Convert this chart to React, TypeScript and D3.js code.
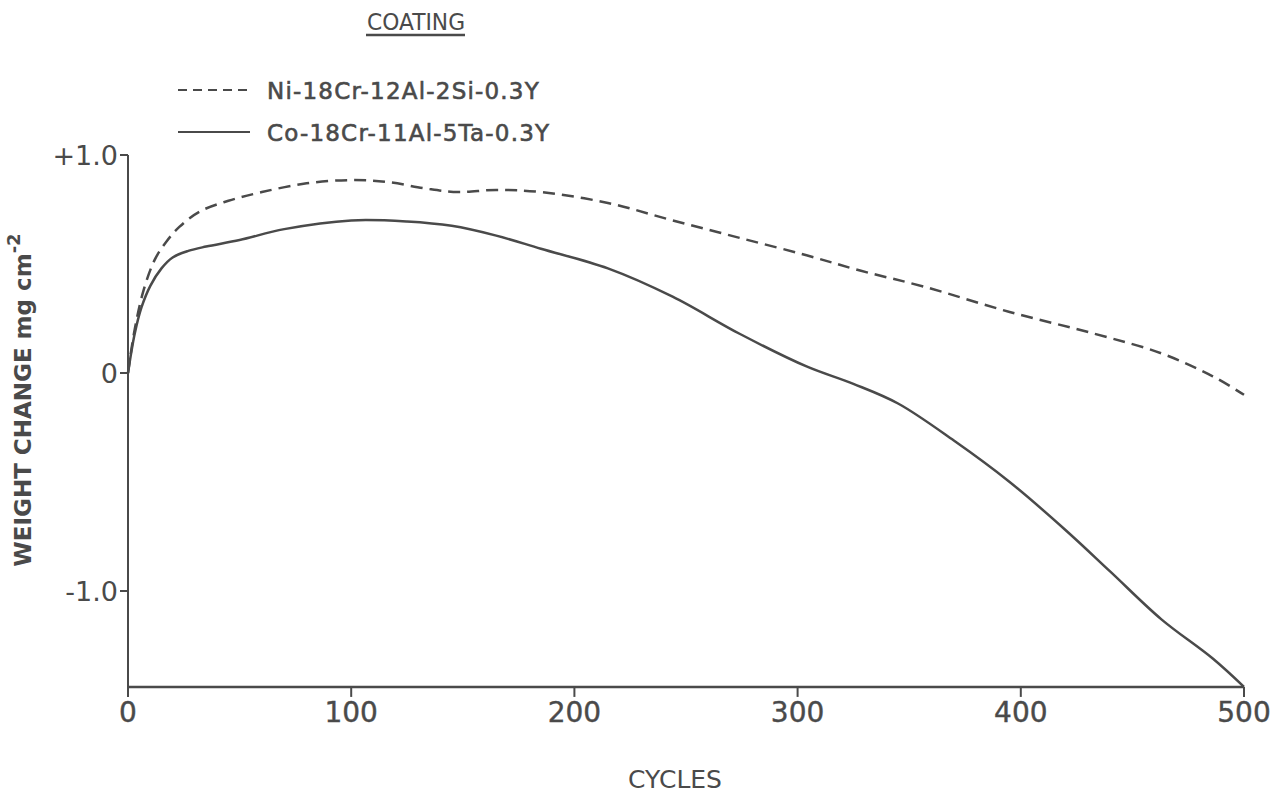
import React from "react";
import * as d3 from "d3";

// cycles / weight change (mg cm^-2)
const niCycles = [0, 3, 7, 12, 17, 23, 32, 45, 60, 80, 100, 117, 134, 148, 165, 185, 215, 244, 274, 304, 328, 357, 395, 433, 463, 486, 500];
const niValues = [0, 0.2, 0.38, 0.52, 0.6, 0.67, 0.74, 0.79, 0.83, 0.87, 0.885, 0.875, 0.845, 0.83, 0.84, 0.83, 0.78, 0.7, 0.62, 0.54, 0.47, 0.395, 0.28, 0.18, 0.09, -0.015, -0.1];

const coCycles = [0, 3, 6, 10, 15, 20, 27, 35, 50, 70, 100, 125, 145, 165, 185, 215, 244, 274, 304, 325, 345, 370, 395, 420, 440, 463, 486, 500];
const coValues = [0, 0.18, 0.3, 0.4, 0.48, 0.53, 0.56, 0.58, 0.61, 0.66, 0.7, 0.695, 0.675, 0.63, 0.57, 0.48, 0.35, 0.18, 0.03, -0.05, -0.14, -0.31, -0.5, -0.72, -0.91, -1.13, -1.31, -1.44];

const xTicks = [0, 100, 200, 300, 400, 500];
const yTicks = [1, 0, -1];
const yTickLabels = ["+1.0", "0", "-1.0"];

const legendLabels = ["Ni-18Cr-12Al-2Si-0.3Y", "Co-18Cr-11Al-5Ta-0.3Y"];

const ink = "#4a4a4a";
const font = "'DejaVu Sans', sans-serif";

const App = () => {
  const x = d3.scaleLinear().domain([0, 500]).range([128, 1244]);
  const y = d3.scaleLinear().domain([-1, 1]).range([591, 155]);
  const yBottom = y(-1.44);

  const line = d3
    .line<[number, number]>()
    .x((d) => x(d[0]))
    .y((d) => y(d[1]))
    .curve(d3.curveCatmullRom.alpha(0.5));

  const niData = niCycles.map((c, i) => [c, niValues[i]] as [number, number]);
  const coData = coCycles.map((c, i) => [c, coValues[i]] as [number, number]);

  return (
    <svg
      width={1281}
      height={796}
      style={{ position: "absolute", left: 0, top: 0, background: "#fff" }}
    >
      {/* title */}
      <text
        x={416}
        y={30}
        textAnchor="middle"
        fontFamily={font}
        fontSize={23}
        textLength={98}
        lengthAdjust="spacingAndGlyphs"
        fill={ink}
      >
        COATING
      </text>
      <line x1={366} x2={465} y1={35} y2={35} stroke={ink} strokeWidth={2.5} />

      {/* legend */}
      <line x1={178} x2={250} y1={90} y2={90} stroke={ink} strokeWidth={2} strokeDasharray="9,6" />
      <text
        x={267}
        y={99}
        fontFamily={font}
        fontSize={23}
        letterSpacing={1.2}
        fill={ink}
        stroke={ink}
        strokeWidth={0.6}
      >
        {legendLabels[0]}
      </text>
      <line x1={178} x2={250} y1={132} y2={132} stroke={ink} strokeWidth={2.2} />
      <text
        x={267}
        y={141}
        fontFamily={font}
        fontSize={23}
        letterSpacing={1.2}
        fill={ink}
        stroke={ink}
        strokeWidth={0.6}
      >
        {legendLabels[1]}
      </text>

      {/* axes */}
      <line x1={x(0)} x2={x(0)} y1={y(1)} y2={yBottom} stroke={ink} strokeWidth={2} />
      <line x1={x(0)} x2={x(500)} y1={yBottom} y2={yBottom} stroke={ink} strokeWidth={2.5} />
      {yTicks.map((t, i) => (
        <g key={t}>
          <line x1={x(0) - 8} x2={x(0)} y1={y(t)} y2={y(t)} stroke={ink} strokeWidth={2} />
          <text
            x={x(0) - 10}
            y={y(t)}
            dy="0.36em"
            textAnchor="end"
            fontFamily={font}
            fontSize={27}
            fill={ink}
          >
            {yTickLabels[i]}
          </text>
        </g>
      ))}
      {xTicks.map((t) => (
        <g key={t}>
          <line x1={x(t)} x2={x(t)} y1={yBottom} y2={yBottom + 10} stroke={ink} strokeWidth={2} />
          <text
            x={x(t)}
            y={722}
            textAnchor="middle"
            fontFamily={font}
            fontSize={28}
            fill={ink}
            stroke={ink}
            strokeWidth={0.4}
          >
            {t}
          </text>
        </g>
      ))}

      {/* axis titles */}
      <text x={675} y={788} textAnchor="middle" fontFamily={font} fontSize={25} fill={ink}>
        CYCLES
      </text>
      <text
        transform="translate(31,400) rotate(-90)"
        textAnchor="middle"
        fontFamily={font}
        fontSize={23}
        fontWeight="bold"
        fill={ink}
      >
        WEIGHT CHANGE mg cm
        <tspan dy={-11} fontSize={18}>
          -2
        </tspan>
      </text>

      {/* curves */}
      <path d={line(niData) ?? ""} fill="none" stroke={ink} strokeWidth={2.5} strokeDasharray="12,7" />
      <path d={line(coData) ?? ""} fill="none" stroke={ink} strokeWidth={2.5} />
    </svg>
  );
};

export default App;
